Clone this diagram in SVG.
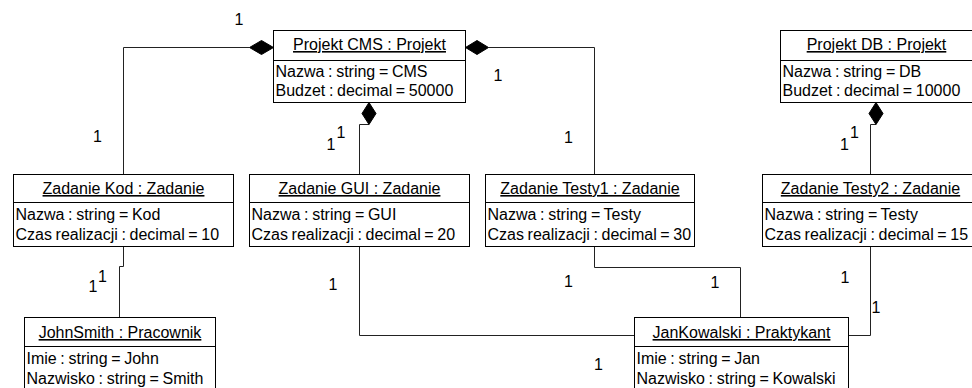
<svg xmlns="http://www.w3.org/2000/svg" width="972" height="388" viewBox="0 0 972 388">
<style>
.box{fill:#fff;stroke:#000;stroke-width:1}
.sep{stroke:#000;stroke-width:1}
.t{font-family:"Liberation Sans",Arial,sans-serif;font-size:16px;fill:#000}
.a{word-spacing:-0.8px}
.title{text-anchor:middle;text-decoration:underline}
.lbl{font-family:"Liberation Sans",Arial,sans-serif;font-size:16px;fill:#000;text-anchor:middle}
.con{fill:none;stroke:#222;stroke-width:1}
.dia{fill:#000;stroke:#000;stroke-width:1}
</style>
<rect width="972" height="388" fill="#fff"/>
<g id="connectors">
<path class="con" d="M249.5,47.5 H123.5 V174.5"/>
<path class="con" d="M488.5,47.5 H594.5 V174.5"/>
<path class="con" d="M369,124.5 H359.5 V174.5"/>
<path class="con" d="M876,124.5 H870.5 V174.5"/>
<path class="con" d="M123.5,246.5 V266.5 H119.5 V317.5"/>
<path class="con" d="M359.5,246.5 V335.5 H634.5"/>
<path class="con" d="M594.5,246.5 V267.5 H740.5 V317.5"/>
<path class="con" d="M870.5,246.5 V335.5 H848.5"/>
<polygon class="dia" points="273.5,47.5 261.5,40.5 249.5,47.5 261.5,54.5"/>
<polygon class="dia" points="465.5,47.5 477,40.5 488.5,47.5 477,54.5"/>
<polygon class="dia" points="369,102.5 376,113.5 369,124.5 362,113.5"/>
<polygon class="dia" points="876,102.5 883,113.5 876,124.5 869,113.5"/>
<text class="lbl" x="239" y="25">1</text>
<text class="lbl" x="97.5" y="142">1</text>
<text class="lbl" x="331" y="150">1</text>
<text class="lbl" x="341" y="138">1</text>
<text class="lbl" x="498" y="81">1</text>
<text class="lbl" x="568.5" y="143">1</text>
<text class="lbl" x="844.5" y="150">1</text>
<text class="lbl" x="854.5" y="138">1</text>
<text class="lbl" x="93" y="292">1</text>
<text class="lbl" x="102.5" y="282">1</text>
<text class="lbl" x="333" y="290">1</text>
<text class="lbl" x="568.5" y="287">1</text>
<text class="lbl" x="715" y="288">1</text>
<text class="lbl" x="598.5" y="370">1</text>
<text class="lbl" x="845" y="283">1</text>
<text class="lbl" x="876" y="313">1</text>
</g>
<g id="projekt-cms">
<rect class="box" x="273.5" y="30.5" width="192" height="72"/>
<line class="sep" x1="273.5" y1="60.5" x2="465.5" y2="60.5"/>
<text class="t title" x="369.5" y="50">Projekt CMS : Projekt</text>
<text class="t a" x="275.5" y="77">Nazwa : string = CMS</text>
<text class="t a" x="275.5" y="96">Budzet : decimal = 50000</text>
</g>
<g id="projekt-db">
<rect class="box" x="780.5" y="30.5" width="194" height="72"/>
<line class="sep" x1="780.5" y1="60.5" x2="974.5" y2="60.5"/>
<text class="t title" x="876.5" y="50">Projekt DB : Projekt</text>
<text class="t a" x="782.5" y="77">Nazwa : string = DB</text>
<text class="t a" x="782.5" y="96">Budzet : decimal = 10000</text>
</g>
<g id="zadanie-kod">
<rect class="box" x="13.5" y="174.5" width="220" height="72"/>
<line class="sep" x1="13.5" y1="202.5" x2="233.5" y2="202.5"/>
<text class="t title" x="123.5" y="194">Zadanie Kod : Zadanie</text>
<text class="t a" x="15.5" y="220">Nazwa : string = Kod</text>
<text class="t a" x="15.5" y="239.5">Czas realizacji : decimal = 10</text>
</g>
<g id="zadanie-gui">
<rect class="box" x="249.5" y="174.5" width="220" height="72"/>
<line class="sep" x1="249.5" y1="202.5" x2="469.5" y2="202.5"/>
<text class="t title" x="359.5" y="194">Zadanie GUI : Zadanie</text>
<text class="t a" x="251.5" y="220">Nazwa : string = GUI</text>
<text class="t a" x="251.5" y="239.5">Czas realizacji : decimal = 20</text>
</g>
<g id="zadanie-testy1">
<rect class="box" x="485.5" y="174.5" width="209" height="72"/>
<line class="sep" x1="485.5" y1="202.5" x2="694.5" y2="202.5"/>
<text class="t title" x="590" y="194">Zadanie Testy1 : Zadanie</text>
<text class="t a" x="487.5" y="220">Nazwa : string = Testy</text>
<text class="t a" x="487.5" y="239.5">Czas realizacji : decimal = 30</text>
</g>
<g id="zadanie-testy2">
<rect class="box" x="762.5" y="174.5" width="220" height="72"/>
<line class="sep" x1="762.5" y1="202.5" x2="982.5" y2="202.5"/>
<text class="t title" x="870.5" y="194">Zadanie Testy2 : Zadanie</text>
<text class="t a" x="764.5" y="220">Nazwa : string = Testy</text>
<text class="t a" x="764.5" y="239.5">Czas realizacji : decimal = 15</text>
</g>
<g id="johnsmith">
<rect class="box" x="24.5" y="317.5" width="191" height="80"/>
<line class="sep" x1="24.5" y1="346.5" x2="215.5" y2="346.5"/>
<text class="t title" x="120" y="338">JohnSmith : Pracownik</text>
<text class="t a" x="26.5" y="364">Imie : string = John</text>
<text class="t a" x="26.5" y="383.5">Nazwisko : string = Smith</text>
</g>
<g id="jankowalski">
<rect class="box" x="634.5" y="317.5" width="214" height="80"/>
<line class="sep" x1="634.5" y1="346.5" x2="848.5" y2="346.5"/>
<text class="t title" x="741.5" y="338">JanKowalski : Praktykant</text>
<text class="t a" x="636.5" y="364">Imie : string = Jan</text>
<text class="t a" x="636.5" y="383.5">Nazwisko : string = Kowalski</text>
</g>
</svg>
